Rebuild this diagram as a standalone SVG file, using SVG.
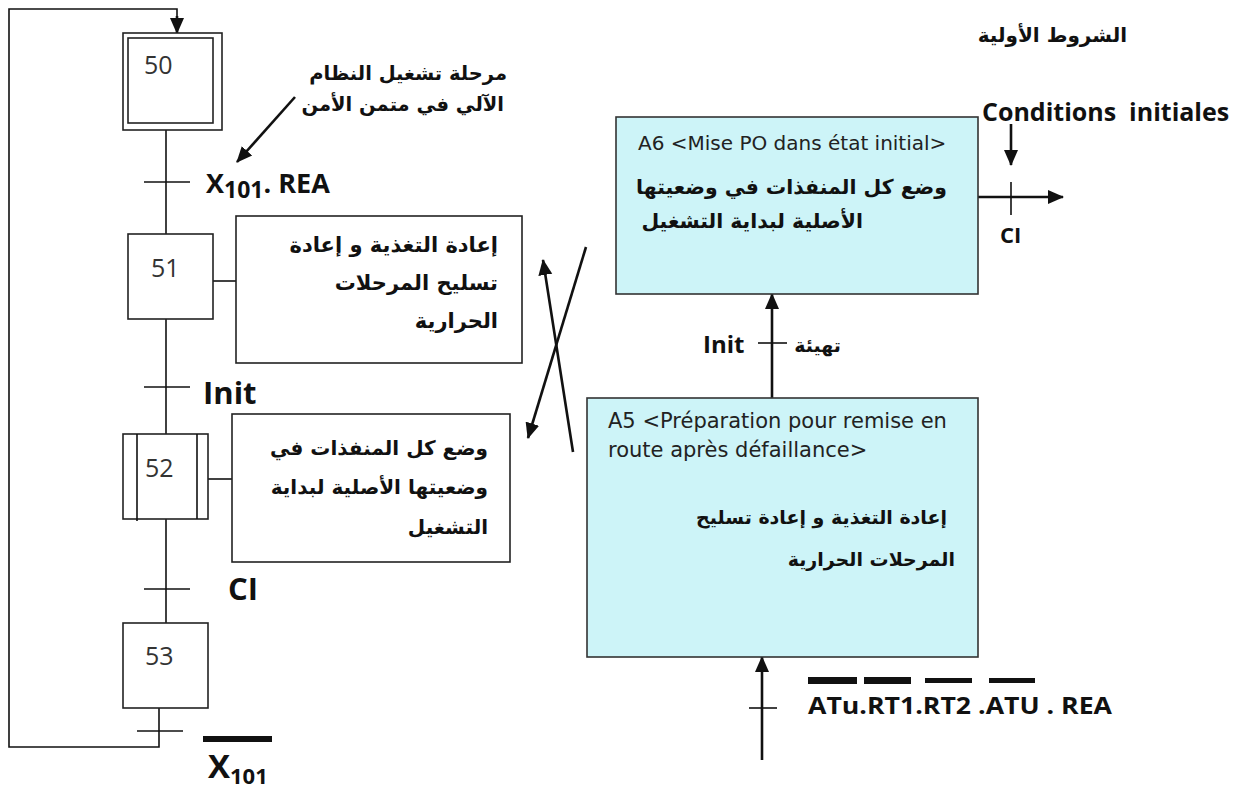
<svg xmlns="http://www.w3.org/2000/svg" width="1240" height="790" viewBox="0 0 1240 790">
  <style>
    .ln { fill: none; stroke: #111; stroke-width: 1.6; }
    .arw { fill: none; stroke: #111; stroke-width: 2.6; }
    .box { fill: #fff; stroke: #222; stroke-width: 1.6; }
    .abox { fill: #cdf4f8; stroke: #333; stroke-width: 1.6; }
    .num { font-family: "Open Sans", "Liberation Sans", sans-serif; font-size: 25px; fill: #333; }
    .lbl { font-family: "Open Sans", "Liberation Sans", sans-serif; font-weight: bold; fill: #111; }
    .ar { font-family: "DejaVu Sans", "Liberation Sans", sans-serif; font-weight: bold; fill: #111; text-anchor: end; }
    .fr { font-family: "DejaVu Sans", "Liberation Sans", sans-serif; fill: #222; }
    .bar { fill: #111; }
  </style>
  <defs>
    <marker id="head" markerUnits="userSpaceOnUse" markerWidth="16" markerHeight="16" viewBox="0 0 16 16" refX="15" refY="8" orient="auto">
      <path d="M0,1 L16,8 L0,15 Z" fill="#111"/>
    </marker>
  </defs>

  <rect width="1240" height="790" fill="#fff"/>

  <!-- GRAFCET links, transitions and arrows -->
  <g id="connectors">
    <!-- return loop from 53 back to 50 -->
    <polyline class="ln" points="159,708 159,747 9,747 9,9 177,9 177,18"/>
    <line class="arw" x1="177" y1="16" x2="177" y2="33" marker-end="url(#head)"/>
    <!-- vertical links -->
    <line class="ln" x1="166" y1="130" x2="166" y2="234"/>
    <line class="ln" x1="166" y1="319" x2="166" y2="434"/>
    <line class="ln" x1="166" y1="519" x2="166" y2="623"/>
    <!-- transitions -->
    <line class="ln" x1="144" y1="182" x2="190" y2="182"/>
    <line class="ln" x1="144" y1="387" x2="190" y2="387"/>
    <line class="ln" x1="144" y1="589" x2="190" y2="589"/>
    <line class="ln" x1="137" y1="731" x2="183" y2="731"/>
    <!-- step to action links -->
    <line class="ln" x1="213" y1="281" x2="236" y2="281"/>
    <line class="ln" x1="208" y1="479" x2="232" y2="479"/>
    <!-- annotation arrow -->
    <line class="arw" x1="295" y1="97" x2="237" y2="162" marker-end="url(#head)"/>
    <!-- crossed arrows -->
    <line class="arw" x1="573" y1="452" x2="543" y2="260" marker-end="url(#head)"/>
    <line class="arw" x1="586" y1="247" x2="528" y2="438" marker-end="url(#head)"/>
    <!-- A5 to A6 -->
    <line class="arw" x1="772" y1="398" x2="772" y2="294" marker-end="url(#head)"/>
    <line class="ln" x1="758" y1="343" x2="787" y2="343"/>
    <!-- input to A5 -->
    <line class="arw" x1="762" y1="760" x2="762" y2="657" marker-end="url(#head)"/>
    <line class="ln" x1="749" y1="708" x2="777" y2="708"/>
    <!-- A6 output -->
    <line class="arw" x1="978" y1="197" x2="1063" y2="197" marker-end="url(#head)"/>
    <line class="ln" x1="1011" y1="182" x2="1011" y2="215"/>
    <line class="arw" x1="1011" y1="124" x2="1011" y2="165" marker-end="url(#head)"/>
  </g>

  <g id="step50">
    <rect class="box" x="123" y="33" width="99" height="97"/>
    <rect class="box" x="128" y="38" width="85" height="85"/>
    <text class="num" x="144" y="74">50</text>
  </g>

  <g id="step51">
    <rect class="box" x="128" y="234" width="85" height="85"/>
    <text class="num" x="151" y="277">51</text>
  </g>

  <g id="step52">
    <rect class="box" x="123" y="434" width="85" height="85"/>
    <line class="ln" x1="137" y1="434" x2="137" y2="521"/>
    <line class="ln" x1="197" y1="434" x2="197" y2="519"/>
    <text class="num" x="145" y="477">52</text>
  </g>

  <g id="step53">
    <rect class="box" x="123" y="623" width="85" height="85"/>
    <text class="num" x="145" y="665">53</text>
  </g>

  <g id="action51">
    <rect class="box" x="236" y="216" width="286" height="147"/>
    <text class="ar" x="498" y="252" font-size="21">إعادة التغذية و إعادة</text>
    <text class="ar" x="498" y="290" font-size="21">تسليح المرحلات</text>
    <text class="ar" x="498" y="328" font-size="21">الحرارية</text>
  </g>

  <g id="action52">
    <rect class="box" x="232" y="414" width="278" height="148"/>
    <text class="ar" x="488" y="455" font-size="20">وضع كل المنفذات في</text>
    <text class="ar" x="488" y="494" font-size="20">وضعيتها الأصلية لبداية</text>
    <text class="ar" x="488" y="534" font-size="20">التشغيل</text>
  </g>

  <g id="A6">
    <rect class="abox" x="616" y="117" width="362" height="177"/>
    <text class="fr" x="638" y="150" font-size="20">A6 &lt;Mise PO dans état initial&gt;</text>
    <text class="ar" x="947" y="194" font-size="20.4">وضع كل المنفذات في وضعيتها</text>
    <text class="ar" x="863" y="228" font-size="20.4">الأصلية لبداية التشغيل</text>
  </g>

  <g id="A5">
    <rect class="abox" x="587" y="398" width="391" height="259"/>
    <text class="fr" x="608" y="428" font-size="21">A5 &lt;Préparation pour remise en</text>
    <text class="fr" x="608" y="457" font-size="21">route après défaillance&gt;</text>
    <text class="ar" x="947" y="524" font-size="19">إعادة التغذية و إعادة تسليح</text>
    <text class="ar" x="955" y="566" font-size="19">المرحلات الحرارية</text>
  </g>

  <g id="labels">
    <text class="ar" x="507" y="80" font-size="19.5">مرحلة تشغيل النظام</text>
    <text class="ar" x="504" y="111" font-size="19.5">الآلي في متمن الأمن</text>
    <text class="lbl" x="206" y="193"><tspan font-size="27">X</tspan><tspan font-size="23" dy="5">101</tspan><tspan font-size="27" dy="-5">. REA</tspan></text>
    <text class="lbl" x="203" y="404" font-size="31">Init</text>
    <text class="lbl" x="228" y="600" font-size="31">CI</text>
    <rect class="bar" x="203" y="736" width="69" height="6"/>
    <text class="lbl" x="208" y="778"><tspan font-size="33">X</tspan><tspan font-size="22" dy="6">101</tspan></text>
    <text class="ar" x="1127" y="42" font-size="20">الشروط الأولية</text>
    <text class="lbl" x="982" y="121" font-size="25" xml:space="preserve">Conditions  initiales</text>
    <text class="lbl" x="1000" y="243" font-size="22">CI</text>
    <text class="lbl" x="703" y="353" font-size="24">Init</text>
    <text class="ar" x="841" y="352" font-size="19">تهيئة</text>
    <rect class="bar" x="808" y="677" width="49" height="7"/>
    <rect class="bar" x="864" y="677" width="47" height="7"/>
    <rect class="bar" x="925" y="678" width="47" height="5"/>
    <rect class="bar" x="989" y="678" width="46" height="5"/>
    <text class="lbl" x="808" y="714" font-size="24" textLength="304" lengthAdjust="spacingAndGlyphs">ATu.RT1.RT2 .ATU . REA</text>
  </g>
</svg>
